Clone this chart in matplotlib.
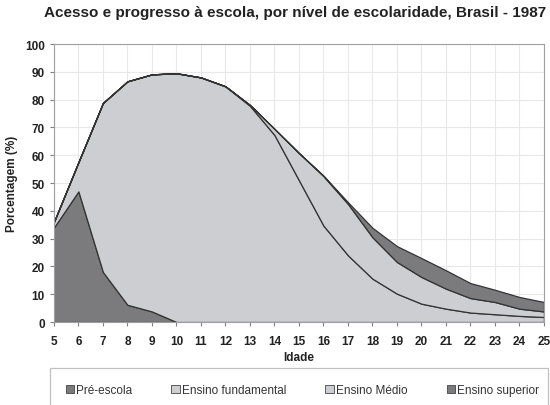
import numpy as np
import matplotlib.pyplot as plt
from matplotlib.patches import Rectangle, Patch

plt.rcParams['font.family'] = ['Liberation Sans', 'DejaVu Sans']

# Dados (percentual por idade)
idade = list(range(5, 26))
pre_escola = [34, 47, 18, 6.2, 3.8, 0, 0, 0, 0, 0, 0, 0, 0, 0, 0, 0, 0, 0, 0, 0, 0]
fundamental = [2, 10.5, 60.8, 80.4, 85.3, 89.5, 88, 84.8, 77.8, 67.3, 51, 34.7, 24, 15.6,
               10.2, 6.6, 4.8, 3.4, 2.8, 2.2, 1.8]
medio = [0, 0, 0, 0, 0, 0, 0, 0, 0.3, 2.2, 9.8, 17.8, 18.5, 14.9, 11.4, 9.6, 7.2, 5.2,
         4.4, 2.6, 2.0]
superior = [0, 0, 0, 0, 0, 0, 0, 0, 0, 0, 0, 0.2, 0.6, 3.4, 5.7, 6.8, 6.6, 5.4, 4.4, 4.2, 3.4]
nomes = ['Pré-escola', 'Ensino fundamental', 'Ensino Médio', 'Ensino superior']

escuro = '#7b7b7e'
claro = '#cdced1'
cores = [escuro, claro, claro, escuro]

fig = plt.figure(figsize=(5.5, 4.06), dpi=100)
ax = fig.add_axes([0.098, 0.2044, 0.891, 0.6846])

ax.stackplot(idade, pre_escola, fundamental, medio, superior, colors=cores,
             edgecolor='#333333', linewidth=0.9)

ax.set_xlim(5, 25)
ax.set_ylim(0, 100)
ax.set_xticks(idade)
ax.set_yticks(range(0, 101, 10))
ax.grid(True, color='#e8e8e8', linewidth=0.8)
ax.set_axisbelow(True)
for s in ax.spines.values():
    s.set_color('#a0a0a0')
ax.tick_params(axis='both', colors='#808080', labelcolor='#222222', length=3, labelsize=8.5)
ax.tick_params(axis='x', pad=6)
for lab in ax.get_xticklabels() + ax.get_yticklabels():
    lab.set_fontweight('bold')

ax.set_xlabel('Idade', fontsize=8.5, fontweight='bold', color='#222222', labelpad=3)
ax.set_ylabel('Porcentagem (%)', fontsize=8.5, fontweight='bold', color='#222222', labelpad=5)
fig.suptitle('Acesso e progresso à escola, por nível de escolaridade, Brasil - 1987',
             x=0.537, y=0.985, fontsize=11, fontweight='bold', color='#222222')

# Caixa da legenda (cortada na borda inferior)
caixa = Rectangle((0.091, -0.05), 0.905, 0.142, transform=fig.transFigure,
                  facecolor='none', edgecolor='#c0c0c0', linewidth=0.9, zorder=5)
fig.add_artist(caixa)
handles = [Patch(facecolor=c, edgecolor='#444444', linewidth=0.6) for c in cores]
leg = fig.legend(handles, nomes, loc='center', bbox_to_anchor=(0.55, 0.037), ncol=4,
                 frameon=False, fontsize=8.5, handlelength=0.7, handleheight=0.7,
                 handletextpad=0.2, columnspacing=3.3)
for t in leg.get_texts():
    t.set_color('#333333')

fig.savefig('out.png', dpi=100)
